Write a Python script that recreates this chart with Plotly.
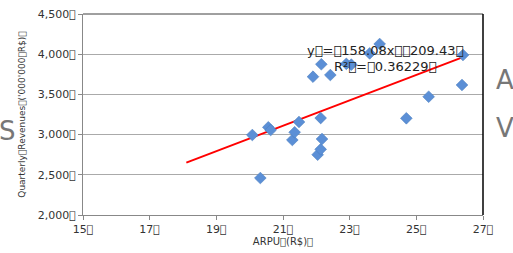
import plotly.graph_objects as go

T = "\ue000"  # missing-glyph character as seen in the reference

# Data
arpu = [20.08, 20.32, 20.56, 20.63, 21.28, 21.35, 21.48, 21.9, 22.04, 22.13, 22.17, 22.13,
        22.15, 22.42, 22.9, 23.05, 23.6, 23.9, 24.7, 25.37, 26.37, 26.4]
revenue = [2995, 2460, 3091, 3057, 2933, 3029, 3157, 3720, 2750, 2817, 2945, 3206,
           3875, 3741, 3880, 3870, 4010, 4127, 3203, 3471, 3617, 3990]
slope = 158.08
intercept = -209.43
r2 = 0.36229
trend_x = [18.1, 26.4]
x_ticks = [15, 17, 19, 21, 23, 25, 27]
y_ticks = [2000, 2500, 3000, 3500, 4000, 4500]

trend_y = [slope * x + intercept for x in trend_x]

fig = go.Figure()
fig.add_trace(go.Scatter(x=trend_x, y=trend_y, mode="lines",
                         line=dict(color="#ff0000", width=2), hoverinfo="skip"))
fig.add_trace(go.Scatter(x=arpu, y=revenue, mode="markers",
                         marker=dict(symbol="diamond", size=9, color="#5b8fd6",
                                     line=dict(color="#4a7dc0", width=0.6))))

fig.add_annotation(x=24.05, y=4052, xref="x", yref="y",
                   text=f"y{T}={T}158.08x{T}{T}209.43{T}", showarrow=False,
                   font=dict(family="DejaVu Sans", size=13, color="#222222"))
fig.add_annotation(x=24.05, y=3853, xref="x", yref="y",
                   text=f"R²{T}={T}{r2}{T}", showarrow=False,
                   font=dict(family="DejaVu Sans", size=13, color="#222222"))

# stray letters from the surrounding slide
fig.add_annotation(x=-0.162, y=0.418, xref="paper", yref="paper", text="S",
                   showarrow=False, xanchor="right", yanchor="middle",
                   font=dict(family="DejaVu Sans", size=26, color="#777777"))
for txt, yp in [("A", 0.672), ("V", 0.433)]:
    fig.add_annotation(x=1.027, y=yp, xref="paper", yref="paper", text=txt,
                       showarrow=False, xanchor="left", yanchor="middle",
                       font=dict(family="DejaVu Sans", size=26, color="#777777"))

# plot border top (dark) and right (black)
fig.add_shape(type="line", xref="paper", yref="paper", x0=0, x1=1, y0=1, y1=1,
              line=dict(color="#404040", width=1))
fig.add_shape(type="line", xref="paper", yref="paper", x0=1, x1=1, y0=0, y1=1,
              line=dict(color="#000000", width=1.5))

fig.update_layout(
    width=513, height=253,
    margin=dict(l=83, r=30, t=14, b=38, autoexpand=False),
    paper_bgcolor="white", plot_bgcolor="white",
    showlegend=False,
    font=dict(family="DejaVu Sans", size=11, color="#333333"),
    xaxis=dict(range=[15, 27], tickvals=x_ticks, automargin=False,
               ticktext=[f"{v}{T}" for v in x_ticks], ticklabeloverflow="allow",
               showgrid=False, zeroline=False, showline=True, linecolor="#888888",
               ticks="outside", ticklen=4, tickcolor="#888888",
               title=dict(text=f"ARPU{T}(R$){T}", standoff=2,
                          font=dict(size=10, color="#333333"))),
    yaxis=dict(range=[2000, 4500], tickvals=y_ticks, automargin=False,
               ticktext=[f"{v:,}{T}" for v in y_ticks], ticklabeloverflow="allow",
               showgrid=True, gridcolor="#aaaaaa", gridwidth=1,
               zeroline=False, showline=True, linecolor="#888888",
               ticks="outside", ticklen=4, tickcolor="#888888",
               title=dict(text=f"Quarterly{T}Revenues{T}('000'000{T}R$){T}", standoff=10,
                          font=dict(size=9, color="#333333"))),
)

fig.write_html("out.html", config={"displayModeBar": False},
               post_script="document.body.style.margin='0';")
